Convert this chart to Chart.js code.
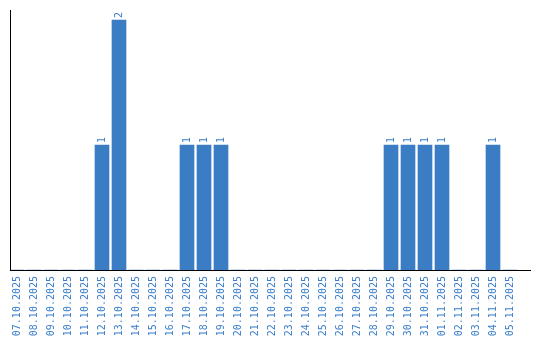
<!DOCTYPE html>
<html>
<head>
<meta charset="utf-8">
<script src="https://cdn.jsdelivr.net/npm/chart.js@4/dist/chart.umd.min.js"></script>
<style>
html,body{margin:0;padding:0;background:#fff;}
#wrap{width:540px;height:340px;position:relative;}
</style>
</head>
<body>
<div id="wrap"><canvas id="c" width="540" height="340"></canvas></div>
<script>
const categories = ["07.10.2025","08.10.2025","09.10.2025","10.10.2025","11.10.2025","12.10.2025","13.10.2025","14.10.2025","15.10.2025","16.10.2025","17.10.2025","18.10.2025","19.10.2025","20.10.2025","21.10.2025","22.10.2025","23.10.2025","24.10.2025","25.10.2025","26.10.2025","27.10.2025","28.10.2025","29.10.2025","30.10.2025","31.10.2025","01.11.2025","02.11.2025","03.11.2025","04.11.2025","05.11.2025"];
const counts = [0,0,0,0,0,1,2,0,0,0,1,1,1,0,0,0,0,0,0,0,0,0,1,1,1,1,0,0,1,0];
const yMax = 2.08;

const BAR = "#3b7dc4";
const TXT = "#3a7ecb";
const FONT = "DejaVu Sans Mono";

const axisLines = {
  id: "axisLines",
  afterDraw(chart) {
    const ctx = chart.ctx;
    const a = chart.chartArea;
    ctx.save();
    ctx.fillStyle = "#000";
    ctx.fillRect(10, a.top, 1, a.bottom - a.top + 1);
    ctx.fillRect(10, a.bottom, 521, 1);
    ctx.restore();
  }
};

const barLabels = {
  id: "barLabels",
  afterDatasetsDraw(chart) {
    const ctx = chart.ctx;
    const meta = chart.getDatasetMeta(0);
    const data = chart.data.datasets[0].data;
    ctx.save();
    ctx.fillStyle = TXT;
    ctx.font = "10px '" + FONT + "'";
    ctx.textAlign = "left";
    ctx.textBaseline = "middle";
    meta.data.forEach((el, i) => {
      const v = data[i];
      if (!v) return;
      ctx.save();
      ctx.translate(el.x, el.y - 2);
      ctx.rotate(-Math.PI / 2);
      ctx.fillText(String(v), 0, 0);
      ctx.restore();
    });
    ctx.restore();
  }
};

new Chart(document.getElementById("c"), {
  type: "bar",
  data: {
    labels: categories,
    datasets: [{
      data: counts,
      backgroundColor: BAR,
      borderWidth: 0,
      barThickness: 14
    }]
  },
  options: {
    responsive: false,
    animation: false,
    devicePixelRatio: 1,
    layout: { padding: { left: 8.5, right: 21.5, top: 10, bottom: 0 } },
    plugins: { legend: { display: false }, tooltip: { enabled: false } },
    scales: {
      x: {
        offset: true,
        grid: { display: false, drawTicks: false },
        border: { display: false },
        ticks: {
          autoSkip: false,
          minRotation: 90,
          maxRotation: 90,
          padding: 6,
          color: TXT,
          font: { family: FONT, size: 10 }
        },
        afterFit(scale) { scale.height = 70; }
      },
      y: {
        display: false,
        min: 0,
        max: yMax
      }
    }
  },
  plugins: [axisLines, barLabels]
});
</script>
</body>
</html>
